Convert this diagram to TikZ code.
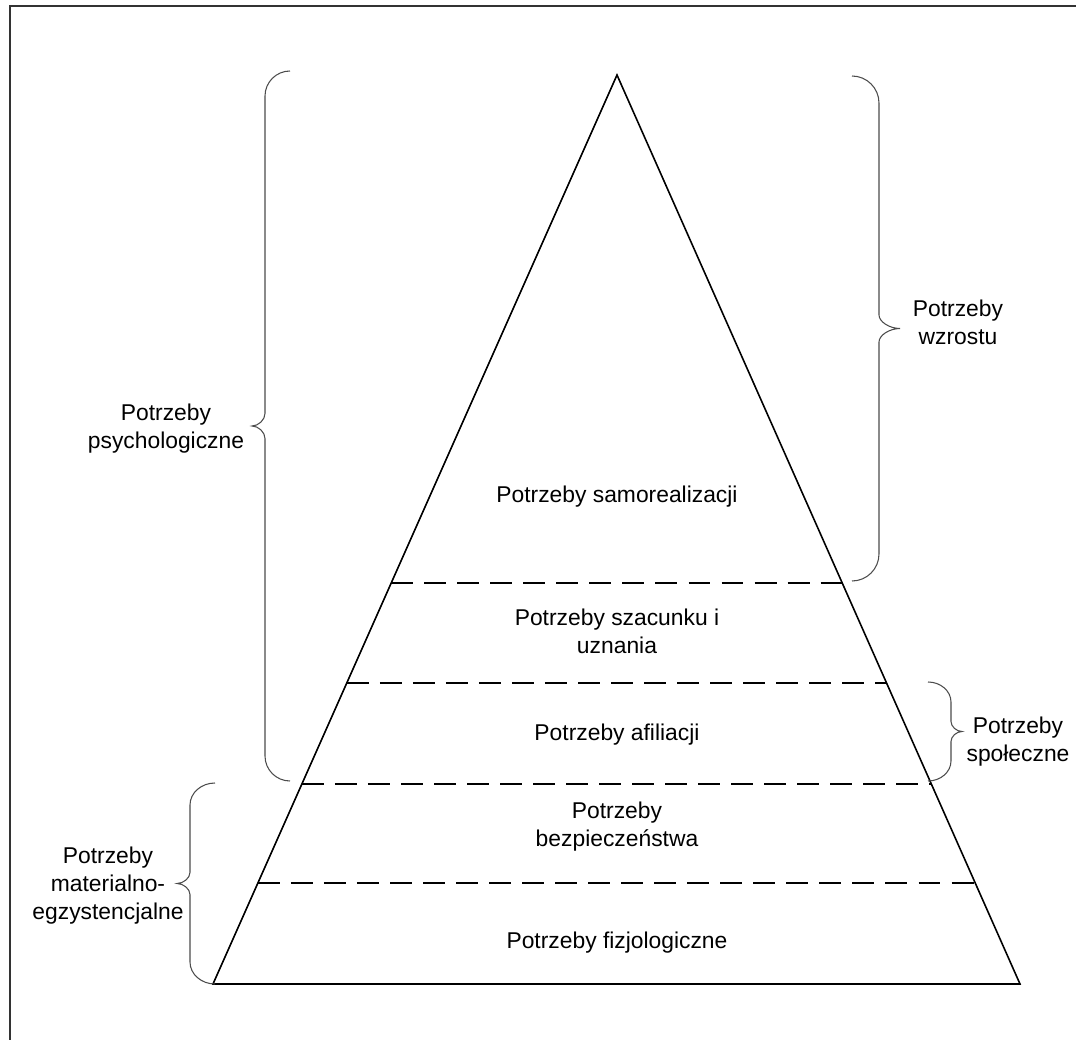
\documentclass[tikz,border=0pt]{standalone}
\usepackage{fontspec}
\setmainfont{Liberation Sans}
\usetikzlibrary{calc}

\tikzset{
    pyramid/.style={line width=0.9pt, line join=miter},
    levelline/.style={line width=1.4pt, dash pattern=on 12.5pt off 6.3pt},
    bracestyle/.style={line width=0.6pt, draw=black!70},
    label/.style={align=center, font=\fontsize{13}{15.9}\selectfont, inner sep=0pt},
}

% brace: tip x, line x, cusp x, top y, bottom y, corner radius
\newcommand{\drawbrace}[6]{
    \pgfmathsetmacro{\brmid}{(#4+#5)/2}
    \pgfmathsetmacro{\brdx}{#2-#1}
    \pgfmathsetmacro{\brcx}{#2+0.5*(#3-#2)}
    \draw[bracestyle]
        (#1,#4) .. controls ({#1+0.55*\brdx},#4) and (#2,{#4+0.45*#6}) .. (#2,{#4+#6})
        -- (#2,{\brmid-#6/2})
        .. controls (#2,{\brmid-#6/4}) and (\brcx,\brmid) .. (#3,\brmid)
        .. controls (\brcx,\brmid) and (#2,{\brmid+#6/4}) .. (#2,{\brmid+#6/2})
        -- (#2,{#5-#6})
        .. controls (#2,{#5-0.45*#6}) and ({#1+0.55*\brdx},#5) .. (#1,#5);
}

\begin{document}
\begin{tikzpicture}[x=0.02cm, y=-0.02cm]

\useasboundingbox (0,0) rectangle (1076,1040);

% frame
\draw[line width=1.1pt, black!80] (10,1040) -- (10,6) -- (1076,6);

% pyramid
\coordinate (apex) at (617,75);
\coordinate (bl) at (213,984);
\coordinate (br) at (1020,984);
\draw[pyramid] (bl) -- (apex) -- (br) -- cycle;

% level borders
\foreach \yy in {583,683,784,883} {
    \pgfmathsetmacro{\lev}{(\yy-75)/909}
    \draw[levelline] ($(apex)!\lev!(bl)$) -- ($(apex)!\lev!(br)$);
}

% levels
\node[label] (samorealizacja) at (617,497) {Potrzeby samorealizacji};
\node[label] (szacunek) at (617,631) {Potrzeby szacunku i\\uznania};
\node[label] (afiliacja) at (617,735) {Potrzeby afiliacji};
\node[label] (bezpieczenstwo) at (617,827) {Potrzeby\\bezpieczeństwa};
\node[label] (fizjologia) at (617,943) {Potrzeby fizjologiczne};

% braces
\drawbrace{290}{265}{252}{71}{781}{25}
\drawbrace{215}{190}{177}{783}{984}{22}
\drawbrace{852}{879}{900}{76}{581}{27}
\drawbrace{928}{951}{962}{682}{781}{20}

% groups
\node[label] (psych) at (166,429) {Potrzeby\\psychologiczne};
\node[label] (materialne) at (108,886) {Potrzeby\\materialno-\\egzystencjalne};
\node[label] (wzrost) at (958,322) {Potrzeby\\wzrostu};
\node[label] (spoleczne) at (1018,742) {Potrzeby\\społeczne};

\end{tikzpicture}
\end{document}
